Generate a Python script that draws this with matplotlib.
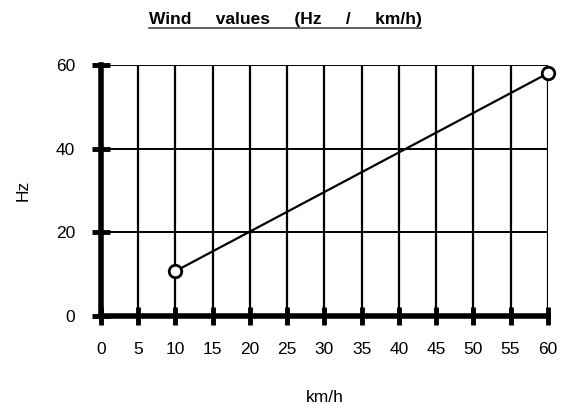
import matplotlib
matplotlib.use("Agg")
import matplotlib.pyplot as plt
from matplotlib.lines import Line2D

plt.rcParams['font.family'] = ['Liberation Sans', 'DejaVu Sans']

# data
speed_kmh = [10, 60]
freq_hz = [10.7, 58]
x_ticks = list(range(0, 65, 5))
y_ticks = [0, 20, 40, 60]

fig = plt.figure(figsize=(5.7, 4.05), dpi=100)
ax = fig.add_axes([0.177, 0.22, 0.784, 0.6195])

ax.set_xlim(0, 60)
ax.set_ylim(0, 60)

# grid
for x in x_ticks[1:]:
    ax.axvline(x, color='black', lw=1.6, zorder=1)
for y in y_ticks[1:]:
    ax.axhline(y, color='black', lw=1.4, zorder=1)

ax.plot(speed_kmh, freq_hz, color='black', lw=1.6, marker='o', markersize=9,
        markerfacecolor='white', markeredgecolor='black', markeredgewidth=2,
        zorder=3, clip_on=False)

for s in ['top', 'right']:
    ax.spines[s].set_visible(False)
ax.spines['left'].set_linewidth(4)
ax.spines['bottom'].set_linewidth(4)

ax.set_xticks(x_ticks)
ax.set_yticks(y_ticks)
ax.tick_params(axis='x', direction='inout', length=13, width=3.5, pad=12, labelsize=12.5)
ax.tick_params(axis='y', direction='inout', length=13, width=3.5, pad=12, labelsize=12.5)

ax.set_xlabel('km/h', fontsize=12.5, labelpad=24)
ax.set_ylabel('Hz', fontsize=12.5, labelpad=18)

title = fig.text(0.5, 0.952, 'Wind     values     (Hz     /     km/h)', ha='center', va='center',
                 fontsize=12.5, fontweight='bold')
fig.canvas.draw()
bb = title.get_window_extent().transformed(fig.transFigure.inverted())
fig.add_artist(Line2D([bb.x0, bb.x1], [bb.y0 - 0.003, bb.y0 - 0.003],
                      transform=fig.transFigure, color='#444444', lw=1.2))

fig.savefig('out.png', dpi=100)
